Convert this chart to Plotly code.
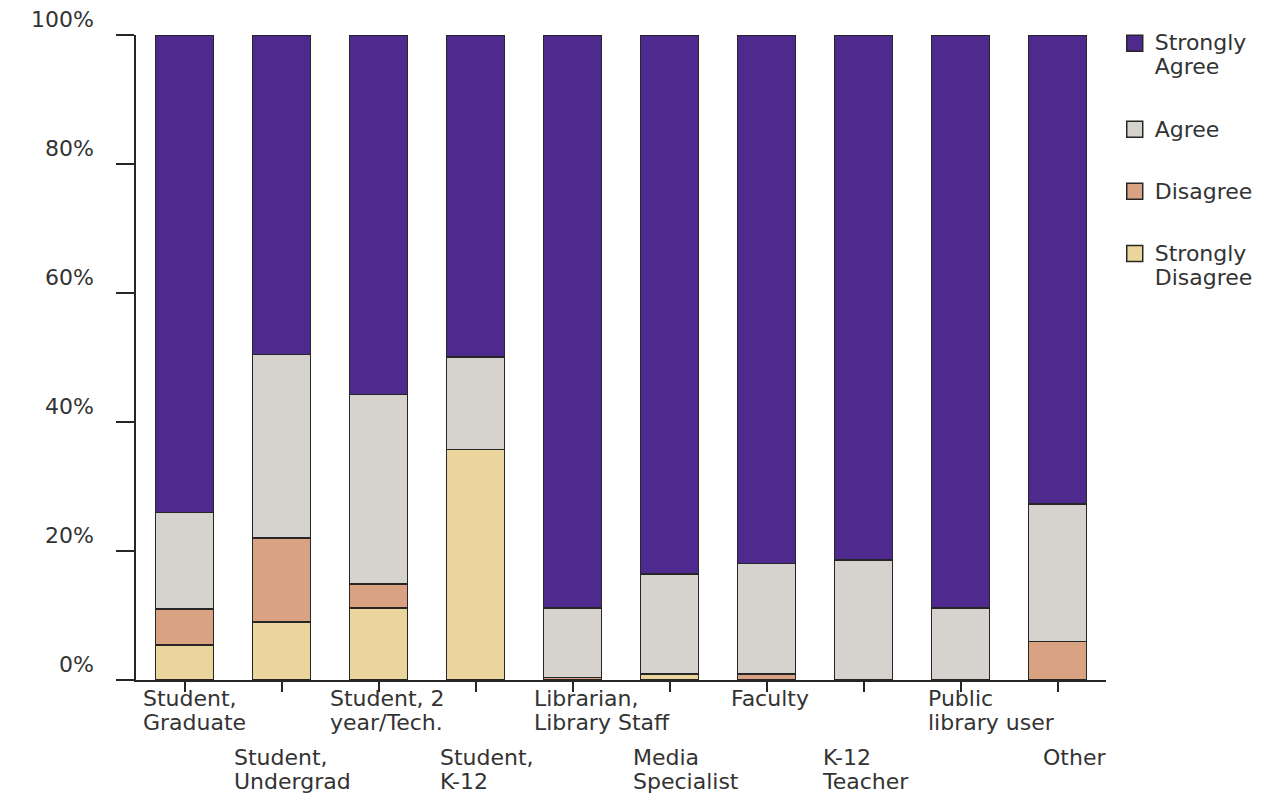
import plotly.graph_objects as go

# ---------------- data ----------------
categories = ["Student, Graduate", "Student, Undergrad", "Student, 2 year/Tech.", "Student, K-12",
              "Librarian, Library Staff", "Media Specialist", "Faculty", "K-12 Teacher",
              "Public library user", "Other"]
tick_lines = [["Student,", "Graduate"], ["Student,", "Undergrad"], ["Student, 2", "year/Tech."],
              ["Student,", "K-12"], ["Librarian,", "Library Staff"], ["Media", "Specialist"],
              ["Faculty"], ["K-12", "Teacher"], ["Public", "library user"], ["Other"]]

strongly_disagree = [5.4, 9.0, 11.2, 35.7, 0, 0.9, 0, 0, 0, 0]
disagree = [5.6, 13.0, 3.7, 0, 0.4, 0, 0.9, 0, 0, 6.0]
agree = [15.0, 28.5, 29.4, 14.4, 10.8, 15.5, 17.2, 18.6, 11.2, 21.3]
strongly_agree = [74.0, 49.5, 55.7, 49.9, 88.8, 83.6, 81.9, 81.4, 88.8, 72.7]

y_ticks = [0, 20, 40, 60, 80, 100]

# ---------------- style ----------------
FONT = "DejaVu Sans"
TXT = "#333333"
OUT = "#262626"
GLYPH = 22
C_SA, C_A, C_D, C_SD = "#4E2A8E", "#D6D2CE", "#D8A283", "#EAD69C"
label_dx = [-44, -50, -51, -38, -41, -39, -38, -44, -35, -17]


def big(lines):
    return "<br>".join(f"<span style='font-size:{GLYPH}px'>{t}</span>" for t in lines)


fig = go.Figure()
series = [("Strongly Disagree", strongly_disagree, C_SD),
          ("Disagree", disagree, C_D),
          ("Agree", agree, C_A),
          ("Strongly Agree", strongly_agree, C_SA)]
for name, vals, col in series:
    fig.add_trace(go.Bar(x=categories, y=vals, name=name, marker=dict(color=col, line=dict(color=OUT, width=1.5)),
                         showlegend=False, legendgroup=name))

legend_names = [("Strongly Agree", ["Strongly", "Agree"], C_SA), ("Agree", ["Agree"], C_A),
                ("Disagree", ["Disagree"], C_D), ("Strongly Disagree", ["Strongly", "Disagree"], C_SD)]
for name, lines, col in legend_names:
    fig.add_trace(go.Scatter(x=[None], y=[None], mode="markers", name=big(lines), legendgroup=name,
                             marker=dict(symbol="square", size=16, color=col, line=dict(color=OUT, width=1.5)),
                             showlegend=True))

for i, lines in enumerate(tick_lines):
    row2 = i % 2 == 1
    fig.add_annotation(x=i, y=0, xref="x", yref="paper", text=big(lines), showarrow=False,
                       xanchor="left", yanchor="top", align="left", xshift=label_dx[i],
                       yshift=-63 if row2 else -4, font=dict(family=FONT, size=18.5, color=TXT))

# the page body has an 8px default margin, so the figure is offset by 8px
fig.update_layout(
    barmode="stack", bargap=0.4,
    width=1261, height=788,
    margin=dict(l=128, r=163, t=27, b=116, pad=0, autoexpand=False),
    paper_bgcolor="white", plot_bgcolor="white",
    font=dict(family=FONT, size=18.5, color=TXT),
    legend=dict(x=1.009, xanchor="left", y=1.016, yanchor="top", traceorder="grouped",
                tracegroupgap=35, valign="top", font=dict(family=FONT, size=18.5, color=TXT),
                bgcolor="rgba(0,0,0,0)", borderwidth=0),
    xaxis=dict(type="category", categoryorder="array", categoryarray=categories, range=[-0.5, 9.5],
               showline=True, linecolor=OUT, linewidth=1.5, ticks="outside", ticklen=10, automargin=False,
               tickcolor=OUT, tickwidth=1.5, showticklabels=False, showgrid=False, zeroline=False),
    yaxis=dict(range=[0, 100], tickvals=y_ticks, ticktext=[f"{v}%" for v in y_ticks],
               showline=True, linecolor=OUT, linewidth=1.5, ticks="outside", ticklen=18, automargin=False,
               tickcolor=OUT, tickwidth=1.5, showgrid=False, zeroline=False,
               ticklabelposition="outside top", ticklabelstandoff=36, ticklabeloverflow="allow",
               tickfont=dict(family=FONT, size=GLYPH, color=TXT)),
)

fig.write_html("out.html")
